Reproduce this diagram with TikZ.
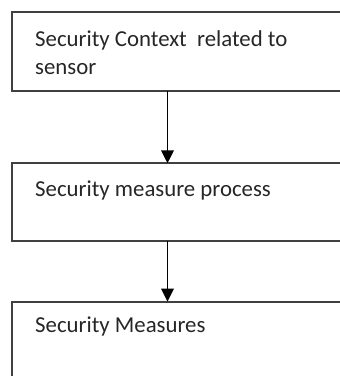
\documentclass[tikz,border=0pt]{standalone}
\usepackage{fontspec}
\setmainfont{Carlito}
\usetikzlibrary{arrows.meta,positioning}

\tikzset{
  stagebox/.style={draw=black!75, line width=2pt, anchor=north west,
    minimum width=350pt, inner sep=0pt, outer sep=0pt},
  stagetext/.style={anchor=base west, inner sep=0pt, text=black!85,
    font=\fontsize{22.8}{27.5}\selectfont, align=left},
  flow/.style={line width=1.8pt, -{Triangle[width=12.5pt, length=13pt]}},
}

\begin{document}
\begin{tikzpicture}[x=1pt, y=-1pt]
\useasboundingbox (0,0) rectangle (340,376);
\clip (0,0) rectangle (340,376);

\node[stagebox, minimum height=78.5pt] (ctx) at (12,12.3) {};
\node[stagebox, minimum height=77.4pt] (proc) at (12,163.3) {};
\node[stagebox, minimum height=100pt] (meas) at (12,301.7) {};

% base of a two-line node sits on its last line
\node[stagetext] (ctx-t) at ([xshift=23pt, yshift=-61.9pt] ctx.north west)
  {Security Context\ \ related to\\sensor};
\node[stagetext] (proc-t) at ([xshift=23pt, yshift=-33pt] proc.north west)
  {Security measure process};
\node[stagetext] (meas-t) at ([xshift=23pt, yshift=-31pt] meas.north west)
  {Security Measures};

% vertical flow line
\coordinate (spine) at (167.5,0);
\draw[flow] (spine |- ctx.south) -- (spine |- proc.north);
\draw[flow] (spine |- proc.south) -- (spine |- meas.north);

\end{tikzpicture}
\end{document}
